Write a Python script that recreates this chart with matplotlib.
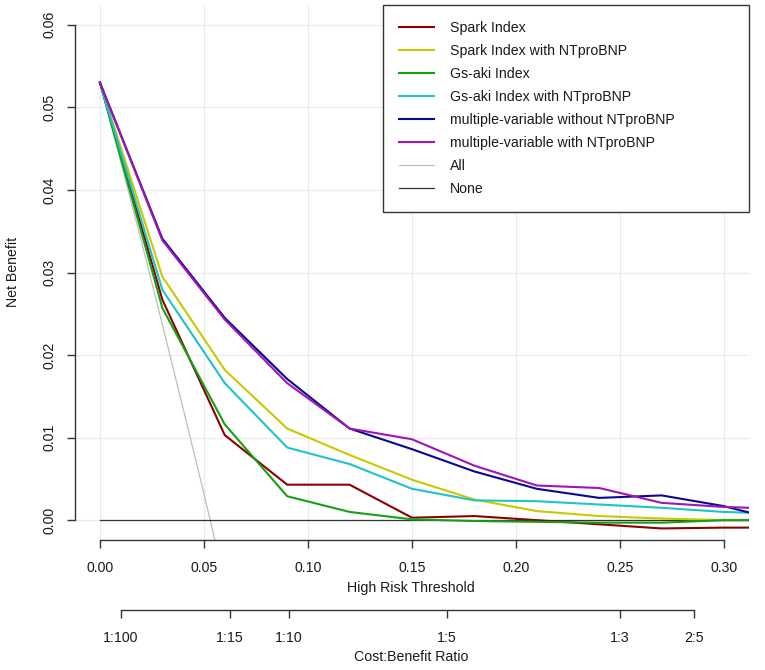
import matplotlib
matplotlib.use("Agg")
import matplotlib.pyplot as plt
from matplotlib.lines import Line2D

plt.rcParams['font.family'] = ['Liberation Sans', 'DejaVu Sans']

# ---- data ----
thresholds = [0.00, 0.03, 0.06, 0.09, 0.12, 0.15, 0.18, 0.21, 0.24, 0.27, 0.30, 0.3125]
spark = [0.053, 0.0267, 0.0103, 0.0043, 0.0043, 0.0003, 0.0005, 0.0000, -0.0005, -0.0010, -0.0009, -0.0009]
spark_nt = [0.053, 0.0295, 0.0182, 0.0111, 0.0079, 0.0049, 0.0025, 0.0011, 0.0005, 0.0002, 0.0000, 0.0000]
gsaki = [0.053, 0.0257, 0.0116, 0.0029, 0.0010, 0.0001, -0.0001, -0.0002, -0.0003, -0.0003, 0.0000, 0.0000]
gsaki_nt = [0.053, 0.0279, 0.0166, 0.0088, 0.0068, 0.0038, 0.0024, 0.0023, 0.0019, 0.0015, 0.0010, 0.0009]
multi = [0.053, 0.0341, 0.0245, 0.0171, 0.0111, 0.0086, 0.0059, 0.0038, 0.0027, 0.0030, 0.0017, 0.0009]
multi_nt = [0.053, 0.0339, 0.0243, 0.0166, 0.0111, 0.0098, 0.0066, 0.0042, 0.0039, 0.0021, 0.0016, 0.0015]

all_x = [0.00, 0.01, 0.02, 0.03, 0.04, 0.05, 0.06]
all_y = [0.053, 0.0434, 0.0337, 0.0237, 0.0135, 0.0032, -0.0075]
none_x = [0.00, 0.3125]
none_y = [0.0, 0.0]

series_names = ["Spark Index", "Spark Index with NTproBNP", "Gs-aki Index",
                "Gs-aki Index with NTproBNP", "multiple-variable without NTproBNP",
                "multiple-variable with NTproBNP", "All", "None"]
series_colors = ["#8B0000", "#C9C900", "#14A014", "#1FC4C4", "#0A0A8E", "#A015B4",
                 "#BEBEBE", "#333333"]

xticks = [0.00, 0.05, 0.10, 0.15, 0.20, 0.25, 0.30]
xticklabels = ["0.00", "0.05", "0.10", "0.15", "0.20", "0.25", "0.30"]
yticks = [0.00, 0.01, 0.02, 0.03, 0.04, 0.05, 0.06]
yticklabels = ["0.00", "0.01", "0.02", "0.03", "0.04", "0.05", "0.06"]
ratio_labels = ["1:100", "1:15", "1:10", "1:5", "1:3", "2:5"]
ratio_parts = [(1, 100), (1, 15), (1, 10), (1, 5), (1, 3), (2, 5)]

FS = 10.2
W, H = 765, 670
fig = plt.figure(figsize=(W / 100, H / 100), dpi=100)

px_l, px_r, px_t, px_b = 75, 749, 5, 540
ax = fig.add_axes([px_l / W, 1 - px_b / H, (px_r - px_l) / W, (px_b - px_t) / H])
ax.set_xlim(-0.012, 0.312)
ax.set_ylim(-0.0024, 0.0624)

# grid
for xv in xticks:
    ax.axvline(xv, color="#EBEBEB", lw=0.9, zorder=0)
for yv in yticks:
    ax.axhline(yv, color="#EBEBEB", lw=0.9, zorder=0)

ax.plot(all_x, all_y, color=series_colors[6], lw=0.9, zorder=2)
ax.plot(none_x, none_y, color=series_colors[7], lw=0.9, zorder=2)
data = [spark, spark_nt, gsaki, gsaki_nt, multi, multi_nt]
for i, ys in enumerate(data):
    ax.plot(thresholds, ys, color=series_colors[i], lw=1.5, zorder=3 + i)

for s in ["top", "right"]:
    ax.spines[s].set_visible(False)
ax.spines["left"].set_bounds(0, 0.06)
ax.spines["bottom"].set_bounds(0, 0.30)
for s in ["left", "bottom"]:
    ax.spines[s].set_color("#333333")
    ax.spines[s].set_linewidth(1.0)
ax.set_xticks(xticks)
ax.set_xticklabels(xticklabels)
ax.set_yticks(yticks)
ax.set_yticklabels(yticklabels)
ax.tick_params(axis="both", length=6, width=1.0, color="#333333", labelsize=FS,
               labelcolor="#1a1a1a")
ax.tick_params(axis="x", pad=9)
ax.tick_params(axis="y", pad=7)
for lab in ax.get_yticklabels():
    lab.set_rotation(90)
    lab.set_va("center")
    lab.set_ha("right")
ax.patch.set_visible(False)

# secondary axis: cost:benefit ratio
ax2 = fig.add_axes([px_l / W, 1 - 610 / H, (px_r - px_l) / W, 0.0001])
ax2.set_xlim(ax.get_xlim())
ratio_pos = [a / (a + b) for a, b in ratio_parts]
for s in ["top", "right", "left"]:
    ax2.spines[s].set_visible(False)
ax2.spines["bottom"].set_bounds(ratio_pos[0], ratio_pos[-1])
ax2.spines["bottom"].set_color("#333333")
ax2.spines["bottom"].set_linewidth(1.0)
ax2.set_yticks([])
ax2.set_xticks(ratio_pos)
ax2.set_xticklabels(ratio_labels)
ax2.tick_params(axis="x", length=6, width=1.0, color="#333333", labelsize=FS,
                labelcolor="#1a1a1a", pad=9)
ax2.patch.set_visible(False)

fig.text(411 / W, 1 - 588 / H, "High Risk Threshold", ha="center", va="center",
         fontsize=FS, color="#1a1a1a")
fig.text(411 / W, 1 - 657 / H, "Cost:Benefit Ratio", ha="center", va="center",
         fontsize=FS, color="#1a1a1a")
fig.text(13 / W, 1 - 272 / H, "Net Benefit", ha="center", va="center",
         rotation=90, fontsize=FS, color="#1a1a1a")

handles = [Line2D([0], [0], color=c, lw=1.5 if i < 6 else 0.9)
           for i, c in enumerate(series_colors)]
leg = ax.legend(handles, series_names, loc="upper left",
                bbox_to_anchor=(383 / W, 0.5, 366 / W, 1 - 5 / H - 0.5),
                bbox_transform=fig.transFigure, mode="expand", borderaxespad=0,
                fontsize=FS, handlelength=2.45, handletextpad=1.15,
                labelspacing=0.63, borderpad=1.15, fancybox=False, framealpha=1,
                edgecolor="#333333")
leg.get_frame().set_linewidth(1.0)
for t in leg.get_texts():
    t.set_color("#1a1a1a")

fig.savefig("out.png", dpi=100)
